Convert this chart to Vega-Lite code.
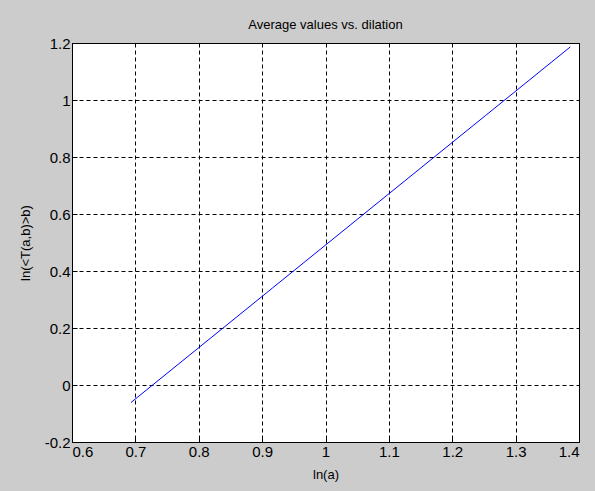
{
  "$schema": "https://vega.github.io/schema/vega-lite/v6.json",
  "width": 507,
  "height": 399,
  "autosize": {"type": "none"},
  "padding": {"left": 72, "top": 43, "right": 16, "bottom": 49},
  "background": "#cccccc",
  "title": {
    "text": "Average values vs. dilation",
    "font": "Liberation Sans",
    "fontSize": 13,
    "fontWeight": "normal",
    "color": "#000000",
    "offset": 4
  },
  "data": {
    "values": [
      {"ln_a": 0.6931, "ln_T": -0.0614},
      {"ln_a": 0.9163, "ln_T": 0.3403},
      {"ln_a": 1.0986, "ln_T": 0.6685},
      {"ln_a": 1.2528, "ln_T": 0.9460},
      {"ln_a": 1.3863, "ln_T": 1.1863}
    ]
  },
  "mark": {"type": "line", "color": "#0000ff", "strokeWidth": 1},
  "encoding": {
    "x": {
      "field": "ln_a",
      "type": "quantitative",
      "scale": {"domain": [0.6, 1.4], "nice": false, "zero": false},
      "axis": {
        "title": "ln(a)",
        "values": [0.6, 0.7, 0.8, 0.9, 1, 1.1, 1.2, 1.3, 1.4],
        "labelExpr": "'' + datum.value",
        "titlePadding": 9
      }
    },
    "y": {
      "field": "ln_T",
      "type": "quantitative",
      "scale": {"domain": [-0.2, 1.2], "nice": false, "zero": false},
      "axis": {
        "title": "ln(<T(a,b)>b)",
        "values": [-0.2, 0, 0.2, 0.4, 0.6, 0.8, 1, 1.2],
        "labelExpr": "'' + datum.value",
        "titlePadding": 12
      }
    }
  },
  "config": {
    "view": {"fill": "#ffffff", "stroke": "#000000", "strokeWidth": 1},
    "axis": {
      "domain": true,
      "domainColor": "#000000",
      "domainWidth": 1,
      "grid": true,
      "gridColor": "#000000",
      "gridOpacity": 1,
      "gridWidth": 1,
      "gridDash": [4, 3],
      "ticks": true,
      "tickSize": -5,
      "tickColor": "#000000",
      "labelFont": "Liberation Sans",
      "labelFontSize": 15,
      "labelColor": "#000000",
      "labelPadding": 7,
      "titleFont": "Liberation Sans",
      "titleFontSize": 13,
      "titleFontWeight": "normal",
      "titleColor": "#000000"
    }
  }
}
